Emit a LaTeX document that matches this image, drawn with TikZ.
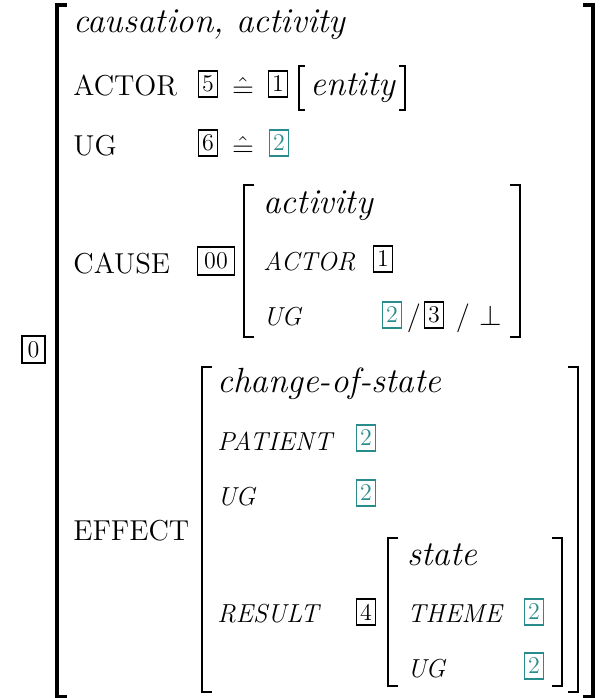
\documentclass[tikz,border=0pt]{standalone}
\usepackage{amsmath}
\usetikzlibrary{positioning}

\definecolor{tagteal}{RGB}{40,140,140}

\tikzset{
  attr/.style={anchor=base west, inner sep=0pt, font=\fontsize{14.4}{17}\selectfont},
  iattr/.style={anchor=base west, inner sep=0pt, font=\fontsize{13}{15}\selectfont\itshape},
  typ/.style={anchor=base west, inner sep=0pt, font=\fontsize{17.5}{20}\selectfont\itshape},
  tag/.style={draw, line width=0.55pt, inner sep=0pt, minimum width=9.8pt, minimum height=13pt,
    font=\fontsize{12}{12}\selectfont},
  tagc/.style={tag, draw=tagteal, text=tagteal},
  sym/.style={inner sep=0pt, font=\fontsize{15}{15}\selectfont},
  bigbrack/.style={line width=1.8pt},
  brack/.style={line width=1.4pt},
  thinbrack/.style={line width=0.6pt},
}

\begin{document}
\begin{tikzpicture}[x=0.5pt,y=-0.5pt]
    \useasboundingbox (0,0) rectangle (601,698);

    % outermost structure
    \node[tag, minimum height=13.5pt, minimum width=11.5pt] (t0) at (33.5,349.5) {0};
    \draw[bigbrack] (67,5) -- (57,5) -- (57,697) -- (67,697);
    \draw[bigbrack] (583,5) -- (593,5) -- (593,697) -- (583,697);

    \node[typ] (top) at (73,32) {causation, activity};

    % ACTOR row
    \node[attr] (actor) at (73,95) {ACTOR};
    \node[tag] (t5) at (208,84) {5};
    \node[sym] (eq1) at (243,87) {$\hat{=}$};
    \node[tag] (t1) at (278,84) {1};
    \node[typ] (ent) at (310,95) {entity};
    \draw[thinbrack] (305,66) -- (299,66) -- (299,110) -- (305,110);
    \draw[thinbrack] (399,66) -- (405,66) -- (405,110) -- (399,110);

    % UG row
    \node[attr] (ug) at (73,155) {UG};
    \node[tag] (t6) at (208,143) {6};
    \node[sym] (eq2) at (243,146) {$\hat{=}$};
    \node[tagc] (t2a) at (279,143) {2};

    % CAUSE row
    \node[attr] (cause) at (73,273) {CAUSE};
    \node[tag, minimum width=18.5pt, minimum height=14pt] (t00) at (216,261) {00};
    \draw[brack] (254,185) -- (244,185) -- (244,337) -- (254,337);
    \draw[brack] (510,185) -- (520,185) -- (520,337) -- (510,337);
    \node[typ] (act) at (263,213) {activity};
    \node[iattr] (cactor) at (263,270) {ACTOR};
    \node[tag] (t1b) at (383,259) {1};
    \node[iattr] (cug) at (263,325) {UG};
    \node[tagc] (t2b) at (392,315) {2};
    \node[sym, anchor=base] (sl1) at (414,325) {$/$};
    \node[tag] (t3) at (434,315) {3};
    \node[sym, anchor=base] (sl2) at (463,325) {$/$};
    \node[sym, anchor=base] (bot) at (491,325) {$\bot$};

    % EFFECT row
    \node[attr] (effect) at (73,540) {EFFECT};
    \draw[brack] (212,367) -- (202,367) -- (202,692) -- (212,692);
    \draw[brack] (568,367) -- (578,367) -- (578,692) -- (568,692);
    \node[typ] (cos) at (217,392) {change-of-state};
    \node[iattr] (pat) at (217,450) {PATIENT};
    \node[tagc] (t2c) at (366,438) {2};
    \node[iattr] (eug) at (217,505) {UG};
    \node[tagc] (t2d) at (366,493) {2};
    \node[iattr] (res) at (217,622) {RESULT};
    \node[tag] (t4) at (366,612) {4};

    % nested RESULT value
    \draw[brack] (398,538) -- (388,538) -- (388,686) -- (398,686);
    \draw[brack] (552,538) -- (562,538) -- (562,686) -- (552,686);
    \node[typ] (st) at (407,565) {state};
    \node[iattr] (thm) at (407,622) {THEME};
    \node[tagc] (t2e) at (534,612) {2};
    \node[iattr] (rug) at (407,677) {UG};
    \node[tagc] (t2f) at (534,666) {2};
\end{tikzpicture}
\end{document}
